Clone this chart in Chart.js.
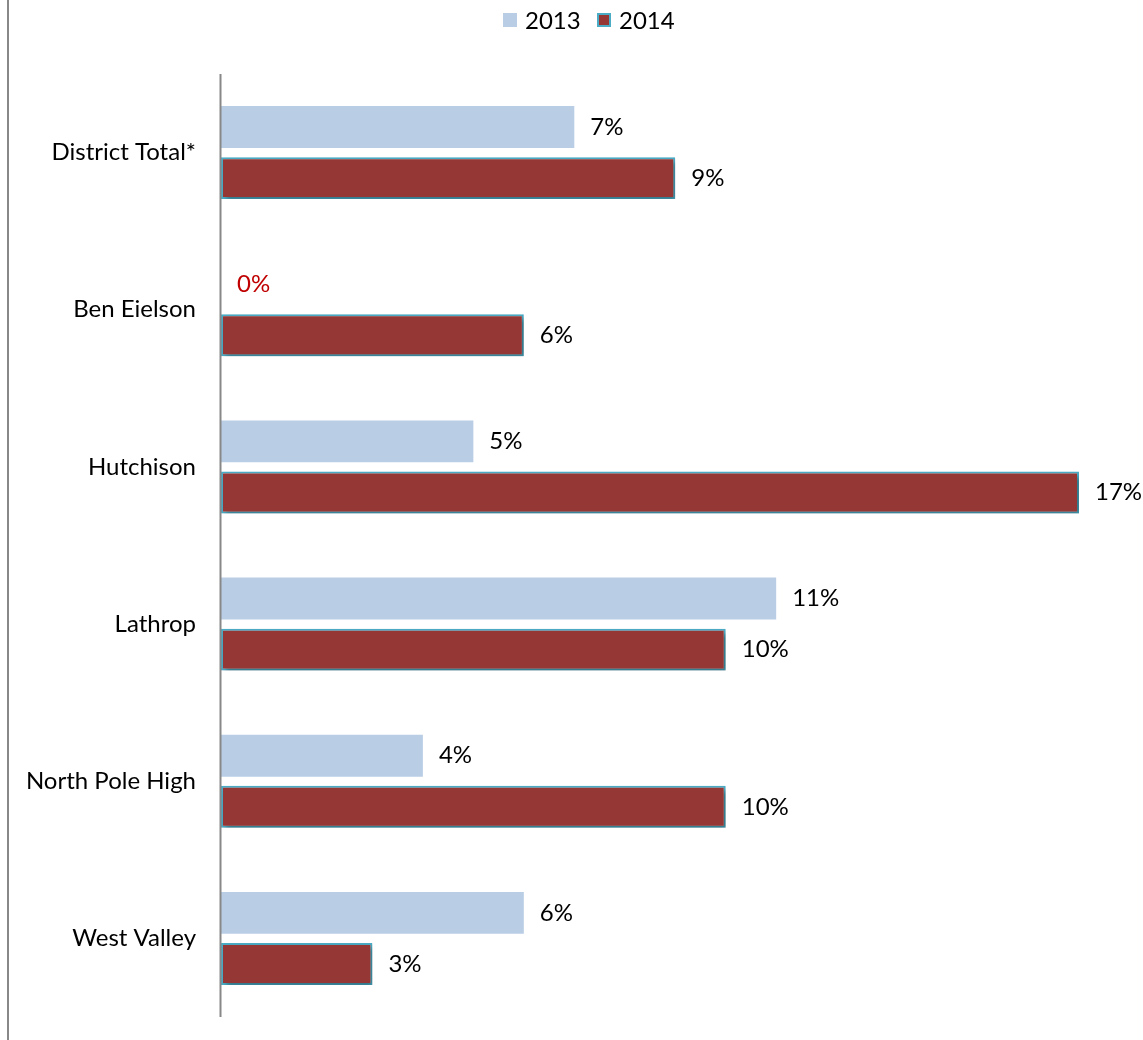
<!DOCTYPE html>
<html>
<head>
<meta charset="utf-8">
<script src="https://cdn.jsdelivr.net/npm/chart.js@4/dist/chart.umd.min.js"></script>
<style>
  html,body{margin:0;padding:0;background:#fff}
  #wrap{width:1143px;height:1040px;position:relative}
</style>
</head>
<body>
<div id="wrap"><canvas id="chart"></canvas></div>
<script>
/* data */
const categories=['District Total*','Ben Eielson','Hutchison','Lathrop','North Pole High','West Valley'];
const seriesNames=['2013','2014'];
const values2013=[7,0,5,11,4,6];
const values2014=[9,6,17,10,10,3];

const FONT='Lato, "Open Sans", sans-serif';
const FSIZE=24;

// shadow under the 2014 bars
const barShadow={
  id:'barShadow',
  beforeDatasetDraw(chart,args){
    if(args.index!==1)return;
    const c=chart.ctx;
    c.save();
    c.shadowColor='rgba(0,0,0,0.35)';
    c.shadowBlur=5;
    c.shadowOffsetX=3;
    c.shadowOffsetY=3;
  },
  afterDatasetDraw(chart,args){
    if(args.index!==1)return;
    chart.ctx.restore();
  }
};

// value labels at bar ends + frame lines + legend
const valueLabels={
  id:'valueLabels',
  afterDatasetsDraw(chart){
    const c=chart.ctx;
    c.save();
    c.font=FSIZE+'px '+FONT;
    c.textBaseline='middle';
    c.textAlign='left';
    chart.data.datasets.forEach(function(ds,i){
      const meta=chart.getDatasetMeta(i);
      meta.data.forEach(function(el,j){
        const v=ds.data[j];
        c.fillStyle=v===0?'#C00000':'#000';
        c.fillText(v+'%',el.x+16,el.y);
      });
    });
    c.restore();
  },
  afterDraw(chart){
    const c=chart.ctx,a=chart.chartArea;
    c.save();
    c.strokeStyle='#888';
    c.lineWidth=2;
    c.beginPath();
    c.moveTo(a.left-0.5,a.top);c.lineTo(a.left-0.5,a.bottom);
    c.moveTo(8,0);c.lineTo(8,chart.height);
    c.stroke();
    // legend
    c.font=FSIZE+'px '+FONT;
    c.textBaseline='middle';
    c.textAlign='left';
    const boxes=[503,597];
    chart.data.datasets.forEach(function(ds,i){
      const x=boxes[i],y=13;
      c.fillStyle=ds.backgroundColor;
      c.fillRect(x,y,14,14);
      if(ds.borderWidth){
        c.strokeStyle=ds.borderColor;c.lineWidth=2;
        c.strokeRect(x+1,y+1,12,12);
      }
      c.fillStyle='#000';
      c.fillText(ds.label,x+22,21);
    });
    c.restore();
  }
};

new Chart(document.getElementById('chart'),{
  type:'bar',
  data:{
    labels:categories,
    datasets:[
      {label:seriesNames[0],data:values2013,backgroundColor:'#B9CDE5',borderWidth:0,
       categoryPercentage:0.65,barPercentage:0.82},
      {label:seriesNames[1],data:values2014,backgroundColor:'#953735',borderColor:'#4BACC6',borderWidth:2,borderSkipped:false,
       categoryPercentage:0.65,barPercentage:0.82}
    ]
  },
  options:{
    indexAxis:'y',
    responsive:true,
    maintainAspectRatio:false,
    animation:false,
    layout:{padding:{top:74,right:64,bottom:23,left:0}},
    plugins:{legend:{display:false},tooltip:{enabled:false}},
    scales:{
      x:{display:false,min:0,max:17},
      y:{
        grid:{display:false,drawTicks:false},
        border:{display:false},
        ticks:{color:'#000',padding:25,font:{family:FONT,size:FSIZE}},
        afterFit(scale){scale.width=221;scale.paddingTop=0;scale.paddingBottom=0}
      }
    }
  },
  plugins:[barShadow,valueLabels]
});
</script>
</body>
</html>
